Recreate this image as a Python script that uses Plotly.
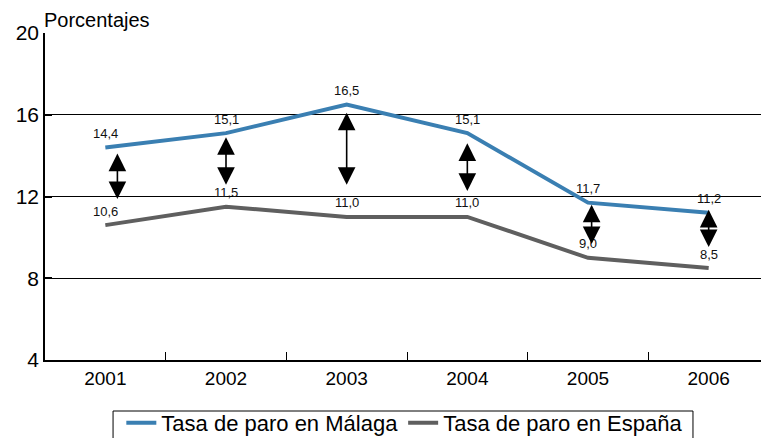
import plotly.graph_objects as go

years = [2001, 2002, 2003, 2004, 2005, 2006]
malaga = [14.4, 15.1, 16.5, 15.1, 11.7, 11.2]
espana = [10.6, 11.5, 11.0, 11.0, 9.0, 8.5]

# double arrows showing the gap (ends in data units)
arrow_x = [2001.1, 2002.0, 2003.0, 2004.0, 2005.03, 2006.0]
arrow_top = [14.1, 14.9, 16.1, 14.6, 11.6, 11.35]
arrow_bottom = [11.8, 12.5, 12.5, 12.2, 9.6, 9.45]

FONT = "Liberation Sans, Arial, sans-serif"


def fmt(v):
    return f"{v:.1f}".replace(".", ",")


fig = go.Figure()
fig.add_trace(go.Scatter(
    x=years, y=malaga, mode="lines", name="Tasa de paro en Málaga",
    line=dict(color="#3a7fb2", width=4),
))
fig.add_trace(go.Scatter(
    x=years, y=espana, mode="lines", name="Tasa de paro en España",
    line=dict(color="#5f5f5f", width=4),
))

annotations = []
for yr, m, e in zip(years, malaga, espana):
    for v in (m, e):
        annotations.append(dict(
            x=yr, y=v, text=fmt(v), showarrow=False, yshift=14,
            font=dict(size=13, color="#111", family=FONT),
        ))

for xa, t, b in zip(arrow_x, arrow_top, arrow_bottom):
    annotations.append(dict(
        x=xa, y=t, ax=xa, ay=b, xref="x", yref="y", axref="x", ayref="y",
        text="", showarrow=True, arrowside="end+start",
        arrowhead=2, startarrowhead=2, arrowsize=2.2, startarrowsize=2.2,
        arrowwidth=1.6, arrowcolor="black",
    ))

annotations.append(dict(
    x=0, y=1, xref="paper", yref="paper", xanchor="left", yanchor="bottom",
    xshift=-3, yshift=0, text="Porcentajes", showarrow=False,
    font=dict(size=20, color="black", family=FONT),
))

# page body adds an 8px margin, so the figure is 8px smaller than the window
fig.update_layout(
    width=761, height=430,
    margin=dict(l=37, r=0, t=25, b=78, autoexpand=False),
    paper_bgcolor="white", plot_bgcolor="white",
    font=dict(family=FONT, color="black", size=20),
    annotations=annotations,
    # legend frame drawn as a shape so the text can sit high in it
    shapes=[dict(
        type="rect", xref="paper", yref="paper",
        x0=0.094, x1=0.895, y0=-0.156, y1=-0.35,
        line=dict(color="black", width=1), fillcolor="rgba(0,0,0,0)",
    )],
    showlegend=True,
    legend=dict(
        orientation="h", x=0.497, xanchor="center", y=-0.128, yanchor="top",
        borderwidth=0, bgcolor="rgba(0,0,0,0)", font=dict(size=22),
        itemwidth=30,
    ),
)
fig.update_xaxes(
    range=[2000.5, 2006.5], tickvals=years, ticktext=[str(y) for y in years],
    ticks="", showgrid=False, showline=True, linecolor="black", linewidth=1.5,
    zeroline=False, tickfont=dict(size=19), automargin=False,
    minor=dict(tickvals=[2001.5, 2002.5, 2003.5, 2004.5, 2005.5],
               ticks="inside", ticklen=8, tickcolor="black", showgrid=False),
)
fig.update_yaxes(
    range=[4, 20], tickvals=[4, 8, 12, 16, 20], ticks="inside", ticklen=7,
    tickcolor="black", tickwidth=1.5, showline=True, linecolor="black",
    linewidth=1.5, showgrid=True, gridcolor="black", gridwidth=1,
    zeroline=False, tickfont=dict(size=21), automargin=False,
)

fig.write_html("out.html")
